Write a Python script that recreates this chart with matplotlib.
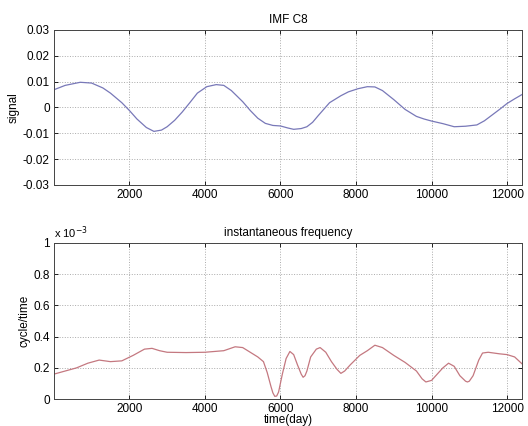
import numpy as np
import matplotlib.pyplot as plt

# IMF C8 signal
t_sig = [1, 300, 700, 1000, 1300, 1500, 1800, 2000, 2200, 2450, 2650, 2850, 3000, 3200, 3400,
         3600, 3800, 4050, 4300, 4500, 4700, 5000, 5200, 5400, 5600, 5800, 6000, 6200, 6350,
         6550, 6700, 6850, 7000, 7300, 7600, 7800, 8050, 8300, 8500, 8700, 9000, 9300, 9600,
         9800, 10000, 10300, 10600, 10900, 11200, 11400, 11600, 11800, 12000, 12200, 12400]
signal = [0.0068, 0.0085, 0.0097, 0.0094, 0.0075, 0.0055, 0.0018, -0.0012, -0.0045, -0.0078,
          -0.0093, -0.0088, -0.0075, -0.0050, -0.0018, 0.0018, 0.0055, 0.0080, 0.0088, 0.0085,
          0.0065, 0.0022, -0.0012, -0.0042, -0.0062, -0.0070, -0.0072, -0.0080, -0.0085,
          -0.0082, -0.0075, -0.0058, -0.0032, 0.0018, 0.0045, 0.0060, 0.0072, 0.0080, 0.0079,
          0.0065, 0.0030, -0.0008, -0.0035, -0.0045, -0.0053, -0.0063, -0.0075, -0.0073,
          -0.0068, -0.0052, -0.0030, -0.0008, 0.0015, 0.0033, 0.0050]

# instantaneous frequency (x 10^-3)
t_freq = [1, 300, 600, 900, 1200, 1500, 1800, 2100, 2400, 2600, 2800, 3000, 3500, 4000, 4500,
          4800, 5000, 5200, 5400, 5550, 5650, 5750, 5800, 5850, 5900, 5950, 6050, 6150, 6250,
          6350, 6450, 6550, 6600, 6650, 6700, 6800, 6950, 7050, 7200, 7350, 7500, 7600, 7700,
          7850, 8100, 8300, 8500, 8700, 9000, 9300, 9600, 9750, 9850, 10000, 10150, 10300,
          10450, 10600, 10750, 10900, 10950, 11000, 11100, 11250, 11350, 11500, 11800, 12000,
          12200, 12400]
freq = [0.16, 0.18, 0.20, 0.23, 0.25, 0.24, 0.245, 0.28, 0.32, 0.325, 0.31, 0.30, 0.298, 0.30,
        0.31, 0.335, 0.33, 0.30, 0.27, 0.24, 0.17, 0.08, 0.04, 0.018, 0.02, 0.045, 0.16, 0.26,
        0.305, 0.285, 0.22, 0.16, 0.14, 0.15, 0.18, 0.27, 0.32, 0.33, 0.30, 0.24, 0.19, 0.165,
        0.18, 0.22, 0.28, 0.31, 0.345, 0.33, 0.28, 0.235, 0.18, 0.13, 0.11, 0.12, 0.16, 0.20,
        0.23, 0.21, 0.15, 0.115, 0.11, 0.115, 0.15, 0.25, 0.295, 0.30, 0.29, 0.285, 0.27, 0.225]

plt.rcParams['font.family'] = ['Liberation Sans', 'DejaVu Sans']
plt.rcParams['font.size'] = 8.5

fig = plt.figure(figsize=(5.28, 4.26), dpi=100)

ax1 = fig.add_axes([0.102, 0.566, 0.887, 0.364])
ax1.plot(t_sig, signal, color='#7878b8', lw=0.9)
ax1.set_xlim(1, 12400)
ax1.set_ylim(-0.03, 0.03)
ax1.set_yticks([-0.03, -0.02, -0.01, 0, 0.01, 0.02, 0.03])
ax1.set_yticklabels(['-0.03', '-0.02', '-0.01', '0', '0.01', '0.02', '0.03'])
ax1.set_xticks([2000, 4000, 6000, 8000, 10000, 12000])
ax1.set_title('IMF C8', fontsize=8.5, pad=5)
ax1.set_ylabel('signal', labelpad=2)

ax2 = fig.add_axes([0.102, 0.063, 0.887, 0.367])
ax2.plot(t_freq, freq, color='#c47880', lw=0.9)
ax2.set_xlim(1, 12400)
ax2.set_ylim(0, 1)
ax2.set_yticks([0, 0.2, 0.4, 0.6, 0.8, 1])
ax2.set_yticklabels(['0', '0.2', '0.4', '0.6', '0.8', '1'])
ax2.set_xticks([2000, 4000, 6000, 8000, 10000, 12000])
ax2.set_title('instantaneous frequency', fontsize=8.5, pad=5)
ax2.set_ylabel('cycle/time', labelpad=2)
ax2.set_xlabel('time(day)', labelpad=-1)
ax2.text(0.0, 1.01, r'x 10$^{-3}$', transform=ax2.transAxes, fontsize=8, va='bottom')

for ax in (ax1, ax2):
    ax.grid(True, linestyle=':', color='#aaaaaa', lw=0.7)
    ax.tick_params(direction='in', length=3, width=0.6, top=True, right=True, pad=3)
    for s in ax.spines.values():
        s.set_linewidth(0.7)
        s.set_color('#444444')

fig.savefig('out.png', dpi=100)
